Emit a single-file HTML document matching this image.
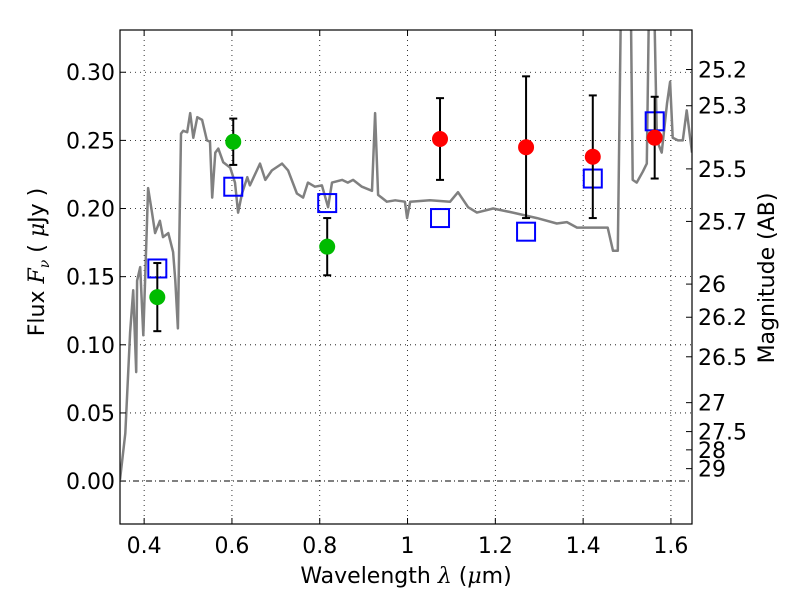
<!DOCTYPE html>
<html><head><meta charset="utf-8"><style>
body{margin:0;background:#fff}
svg{display:block;font-family:"DejaVu Sans","Liberation Sans",sans-serif}
</style></head><body>
<svg id="chart" width="800" height="600" viewBox="0 0 800 600" xmlns="http://www.w3.org/2000/svg">
<defs><clipPath id="clip"><rect x="120" y="30" width="572" height="494"/></clipPath></defs>
<rect x="0" y="0" width="800" height="600" fill="#fff"/>
<g id="grid"></g>
<line x1="120" y1="481" x2="692" y2="481" stroke="#000" stroke-width="1" stroke-dasharray="6,3,1,3"/>
<g id="plot" clip-path="url(#clip)"></g>
<rect x="120" y="30" width="572" height="494" fill="none" stroke="#000" stroke-width="1.2"/>
<g id="axes"></g>
<text x="406" y="583" font-size="22" text-anchor="middle">Wavelength  <tspan font-style="italic" font-family="DejaVu Serif, serif">λ</tspan> (<tspan font-style="italic" font-family="DejaVu Serif, serif">μ</tspan>m)</text>
<text transform="translate(44,262) rotate(-90)" font-size="22" text-anchor="middle">Flux  <tspan font-style="italic" font-family="DejaVu Serif, serif">F<tspan font-size="14" dy="5">ν</tspan></tspan><tspan dy="-5">  (  </tspan><tspan font-style="italic" font-family="DejaVu Serif, serif">μ</tspan>Jy )</text>
<text transform="translate(774,278) rotate(-90)" font-size="22" text-anchor="middle">Magnitude (AB)</text>
</svg>
<script>
const xTicks=[0.4,0.6,0.8,1.0,1.2,1.4,1.6];
const xTickLabels=["0.4","0.6","0.8","1","1.2","1.4","1.6"];
const yTicks=[0,0.05,0.10,0.15,0.20,0.25,0.30];
const yTickLabels=["0.00","0.05","0.10","0.15","0.20","0.25","0.30"];
const magTicks=[25.2,25.3,25.5,25.7,26,26.2,26.5,27,27.5,28,29];
const magTickLabels=["25.2","25.3","25.5","25.7","26","26.2","26.5","27","27.5","28","29"];
const specWave=[0.345,0.357,0.368,0.375,0.382,0.384,0.391,0.398,0.409,0.418,0.425,0.436,0.443,0.455,0.466,0.471,0.477,0.484,0.489,0.498,0.505,0.512,0.521,0.532,0.543,0.550,0.555,0.562,0.569,0.580,0.596,0.607,0.614,0.623,0.635,0.641,0.664,0.676,0.691,0.714,0.728,0.748,0.762,0.773,0.789,0.805,0.819,0.828,0.851,0.864,0.876,0.896,0.919,0.926,0.933,0.953,0.972,0.994,0.999,1.006,1.051,1.097,1.115,1.138,1.158,1.195,1.240,1.295,1.340,1.363,1.386,1.431,1.456,1.468,1.479,1.488,1.507,1.513,1.522,1.536,1.545,1.552,1.559,1.568,1.579,1.591,1.598,1.604,1.616,1.627,1.636,1.648];
const specFlux=[0.001,0.035,0.109,0.140,0.080,0.147,0.157,0.107,0.215,0.197,0.182,0.191,0.179,0.182,0.168,0.147,0.112,0.255,0.257,0.256,0.270,0.252,0.267,0.265,0.250,0.249,0.208,0.241,0.244,0.234,0.230,0.219,0.197,0.211,0.223,0.217,0.233,0.221,0.228,0.233,0.228,0.211,0.208,0.219,0.216,0.217,0.201,0.219,0.221,0.219,0.221,0.216,0.213,0.270,0.210,0.205,0.206,0.205,0.193,0.205,0.206,0.205,0.212,0.201,0.197,0.200,0.197,0.193,0.189,0.190,0.186,0.186,0.186,0.169,0.169,0.40,0.40,0.221,0.219,0.227,0.233,0.40,0.40,0.250,0.241,0.277,0.293,0.252,0.250,0.250,0.272,0.241];
const greenWave=[0.430,0.603,0.817];
const greenFlux=[0.135,0.249,0.172];
const greenErr=[0.025,0.017,0.021];
const redWave=[1.074,1.270,1.422,1.563];
const redFlux=[0.251,0.245,0.238,0.252];
const redErr=[0.030,0.052,0.045,0.030];
const modelWave=[0.430,0.603,0.817,1.074,1.270,1.422,1.563];
const modelFlux=[0.156,0.216,0.204,0.193,0.183,0.222,0.264];

const NS="http://www.w3.org/2000/svg";
const X0=120,X1=692,Y0=30,Y1=524;
const xmin=0.345,xmax=1.648,ymin=-0.0315,ymax=0.331;
function sx(v){return X0+(v-xmin)/(xmax-xmin)*(X1-X0);}
function sy(v){return Y1-(v-ymin)/(ymax-ymin)*(Y1-Y0);}
function mk(tag,attrs,parent){const e=document.createElementNS(NS,tag);for(const k in attrs)e.setAttribute(k,attrs[k]);parent.appendChild(e);return e;}
const grid=document.getElementById('grid'),plot=document.getElementById('plot'),axes=document.getElementById('axes');

xTicks.forEach((t,i)=>{
  const x=sx(t);
  const g=mk('line',{x1:x,y1:Y0,x2:x,y2:Y1,stroke:'#000','stroke-width':0.8,'stroke-dasharray':'1,4'},grid);
  
  
  mk('line',{x1:x,y1:Y1,x2:x,y2:Y1-6,stroke:'#000'},axes);
  mk('line',{x1:x,y1:Y0,x2:x,y2:Y0+6,stroke:'#000'},axes);
  const l=mk('text',{x:x,y:Y1+29,'font-size':22,'text-anchor':'middle'},axes);
  l.textContent=xTickLabels[i];
  
  
});
yTicks.forEach((t,i)=>{
  const y=sy(t);
  if(t!==0){
    const g=mk('line',{x1:X0,y1:y,x2:X1,y2:y,stroke:'#000','stroke-width':0.8,'stroke-dasharray':'1,4'},grid);
    
    
  }
  mk('line',{x1:X0,y1:y,x2:X0+6,y2:y,stroke:'#000'},axes);
  const l=mk('text',{x:X0-5,y:y+8,'font-size':22,'text-anchor':'end'},axes);
  l.textContent=yTickLabels[i];
  
  
});
magTicks.forEach((m,i)=>{
  const y=sy(Math.pow(10,(23.9-m)/2.5));
  mk('line',{x1:X1,y1:y,x2:X1-6,y2:y,stroke:'#000'},axes);
  const l=mk('text',{x:X1+6,y:y+8,'font-size':22,'text-anchor':'start'},axes);
  l.textContent=magTickLabels[i];
  
  
});

const pts=specWave.map((w,i)=>sx(w).toFixed(1)+','+sy(specFlux[i]).toFixed(1)).join(' ');
const sp=mk('polyline',{points:pts,fill:'none',stroke:'#808080','stroke-width':2.5,'stroke-linejoin':'round'},plot);



function errbar(w,f,e){
  const x=sx(w),ya=sy(f+e),yb=sy(f-e);
  const g=mk('g',{stroke:'#000','stroke-width':2},plot);
  
  
  mk('line',{x1:x,y1:ya,x2:x,y2:yb},g);
  mk('line',{x1:x-4,y1:ya,x2:x+4,y2:ya},g);
  mk('line',{x1:x-4,y1:yb,x2:x+4,y2:yb},g);
}
modelWave.forEach((w,i)=>{
  const r=mk('rect',{x:sx(w)-9,y:sy(modelFlux[i])-9,width:18,height:18,fill:'none',stroke:'#0000ff','stroke-width':2},plot);
  
  
});
greenWave.forEach((w,i)=>{
  errbar(w,greenFlux[i],greenErr[i]);
  const c=mk('circle',{cx:sx(w),cy:sy(greenFlux[i]),r:8,fill:'#00bb00'},plot);
  
  
});
redWave.forEach((w,i)=>{
  errbar(w,redFlux[i],redErr[i]);
  const c=mk('circle',{cx:sx(w),cy:sy(redFlux[i]),r:8,fill:'#ff0000'},plot);
  
  
});
</script>
</body></html>
